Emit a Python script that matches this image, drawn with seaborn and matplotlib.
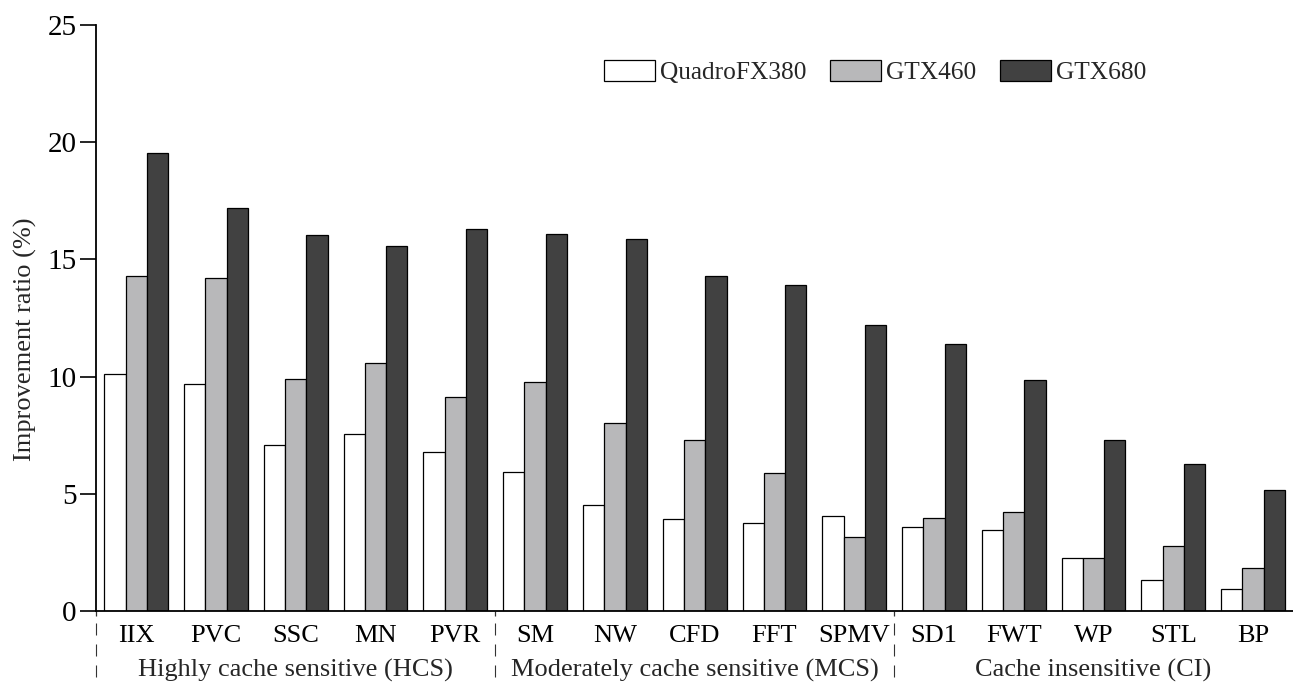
import matplotlib
matplotlib.use("Agg")
import matplotlib.pyplot as plt
import matplotlib.transforms as mtrans
from matplotlib.lines import Line2D
import seaborn as sns
import pandas as pd

# ---- data ----
benchmarks = ["IIX", "PVC", "SSC", "MN", "PVR", "SM", "NW", "CFD", "FFT", "SPMV",
              "SD1", "FWT", "WP", "STL", "BP"]
series_names = ["QuadroFX380", "GTX460", "GTX680"]
quadro = [10.13, 9.69, 7.07, 7.54, 6.80, 5.95, 4.54, 3.91, 3.76, 4.07,
          3.60, 3.47, 2.28, 1.34, 0.94]
gtx460 = [14.30, 14.21, 9.89, 10.60, 9.15, 9.76, 8.01, 7.28, 5.90, 3.15,
          3.97, 4.21, 2.25, 2.79, 1.82]
gtx680 = [19.56, 17.21, 16.05, 15.59, 16.29, 16.08, 15.89, 14.31, 13.90, 12.21,
          11.37, 9.85, 7.28, 6.26, 5.15]
group_names = ["Highly cache sensitive (HCS)",
               "Moderately cache sensitive (MCS)",
               "Cache insensitive (CI)"]
group_sizes = [5, 5, 5]
y_ticks = [0, 5, 10, 15, 20, 25]
y_label = "Improvement ratio (%)"

rows = []
for name, vals in zip(series_names, [quadro, gtx460, gtx680]):
    for b, v in zip(benchmarks, vals):
        rows.append({"benchmark": b, "gpu": name, "value": v})
df = pd.DataFrame(rows)

sns.set_style("ticks")
plt.rcParams["font.family"] = ["Liberation Serif", "DejaVu Serif"]
plt.rcParams["lines.scale_dashes"] = False

W, H = 1293, 686
fig = plt.figure(figsize=(W / 100, H / 100), dpi=100)
ax = fig.add_axes([96.3 / W, 1 - 611 / H, 1 - 96.3 / W, (611 - 25) / H])

palette = {"QuadroFX380": "#ffffff", "GTX460": "#b8b8ba", "GTX680": "#414141"}
sns.barplot(data=df, x="benchmark", y="value", hue="gpu", order=benchmarks,
            hue_order=series_names, palette=palette, edgecolor="black",
            linewidth=0.9, width=0.8, gap=0, saturation=1, ax=ax, errorbar=None)

handles, labels = ax.get_legend_handles_labels()
if ax.get_legend() is not None:
    ax.get_legend().remove()

ax.set_xlim(-0.5, len(benchmarks) - 0.5)
ax.set_ylim(0, 25)
ax.set_yticks(y_ticks)
ax.set_yticklabels([str(t) for t in y_ticks], fontsize=21)
ax.set_xlabel("")
ax.set_ylabel(y_label, fontsize=19)
ax.yaxis.set_label_coords(-0.0495, 0.464)

for s in ["top", "right"]:
    ax.spines[s].set_visible(False)
for s in ["left", "bottom"]:
    ax.spines[s].set_linewidth(1.3)
    ax.spines[s].set_color("black")

ax.tick_params(axis="y", direction="out", length=11.5, width=1.2, pad=2.8, colors="black")
ax.tick_params(axis="x", which="major", length=0, pad=10, labelsize=19, colors="black")

# group separators and group labels
bounds = [-0.5]
for gs in group_sizes:
    bounds.append(bounds[-1] + gs)
seps = bounds[:-1]
ax.set_xticks(seps, minor=True)
ax.tick_params(axis="x", which="minor", length=3.8, width=0.9, direction="out", color="#333333")

trans = mtrans.blended_transform_factory(ax.transData, ax.transAxes)
y_top = -(622.7 - 611) / 586
y_bot = -(700 - 611) / 586
for xs in seps:
    ln = Line2D([xs, xs], [y_top, y_bot], transform=trans, color="#333333",
                linewidth=0.8, linestyle=(0, (8.64, 6.48)), clip_on=False)
    ax.add_line(ln)

for i, gname in enumerate(group_names):
    xc = (bounds[i] + bounds[i + 1]) / 2
    ax.text(xc, -(670 - 611) / 586, gname, transform=trans, ha="center",
            va="center", fontsize=19, clip_on=False)

fig.legend(handles, labels, loc="center left", bbox_to_anchor=(604 / W, 1 - 72 / H),
           ncol=3, frameon=False, fontsize=18.3, handlelength=2.0, handleheight=0.94,
           handletextpad=0.2, columnspacing=0.94, borderpad=0, borderaxespad=0)

fig.savefig("out.png", dpi=100)
